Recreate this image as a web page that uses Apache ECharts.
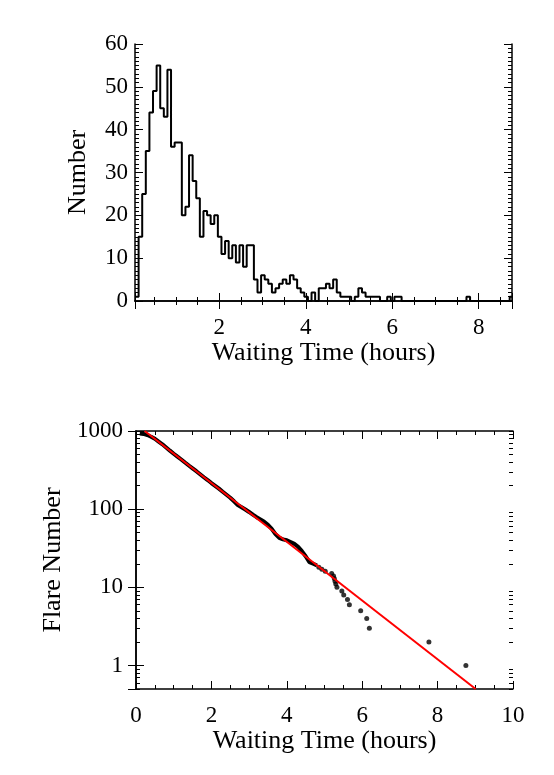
<!DOCTYPE html>
<html>
<head>
<meta charset="utf-8">
<script src="https://cdn.jsdelivr.net/npm/echarts@6/dist/echarts.min.js"></script>
<style>
  html, body { margin: 0; padding: 0; background: #fff; }
  #chart { width: 554px; height: 775px; }
</style>
</head>
<body>
<div id="chart"></div>
<script>
// top panel: flares per 5 minute bin of waiting time
const binStart = 0.05;
const binWidth = 1 / 12;
const binCounts = [
  1, 15, 25, 35, 44, 49, 55, 45, 43, 54, 36, 37, 37, 20, 22, 34, 28, 24, 15, 21,
  20, 18, 20, 15, 11, 14, 10, 13, 9, 13, 8, 13, 13, 5, 2, 6, 5, 4, 2, 3,
  4, 5, 4, 6, 5, 3, 2, 1, 0, 2, 0, 3, 3, 4, 3, 5, 2, 1, 1, 1,
  0, 1, 3, 2, 1, 1, 1, 1, 0, 0, 1, 0, 1, 1, 0, 0, 0, 0, 0, 0,
  0, 0, 0, 0, 0, 0, 0, 0, 0, 0, 0, 0, 1, 0, 0, 0, 0, 0, 0, 0,
  0, 0, 0, 0, 1
];

// bottom panel: number of flares with waiting time longer than t
const denseTimes = [0.10, 0.15, 0.20, 0.25, 0.30, 0.35, 0.40, 0.45, 0.50, 0.55, 0.60, 0.70, 0.80, 0.90,
  1.00, 1.10, 1.20, 1.30, 1.40, 1.50, 1.60, 1.70, 1.80, 1.90, 2.00, 2.10, 2.20, 2.30, 2.40, 2.50,
  2.60, 2.70, 2.80, 2.90, 3.00, 3.10, 3.20, 3.30, 3.40, 3.50, 3.60, 3.70, 3.80, 3.90, 4.00, 4.10,
  4.20, 4.30, 4.40, 4.50, 4.60, 4.70, 4.80];
const denseCounts = [928, 926, 918, 905, 889, 868, 845, 820, 795, 765, 730, 675, 615, 560,
  512, 470, 432, 395, 362, 333, 306, 280, 256, 236, 216, 199, 183, 167, 153, 140,
  126, 113, 106, 99, 92, 85, 79, 74, 69, 63, 56, 48, 43, 41, 40, 38,
  36, 33, 29, 25, 21, 20, 19];
const tailTimes = [4.85, 4.93, 5.02, 5.19, 5.24, 5.26, 5.28, 5.30, 5.33, 5.46, 5.51, 5.61, 5.66, 5.96, 6.12, 6.19, 7.77, 8.75];
const tailCounts = [18, 17, 16, 15, 14, 13, 12, 11, 10, 9, 8, 7, 6, 5, 4, 3, 2, 1];

// exponential fit (straight on the log axis)
const fitTimes = [0.23, 9.01];
const fitCounts = [1000, 0.5];

// log minor ticks at 2..9 x 10^n
const minorSteps = [2, 3, 4, 5, 6, 7, 8, 9];

const serif = 'Liberation Serif';
const black = '#000';
const frame = { show: true, lineStyle: { color: black, width: 1.5 } };
const label = { fontFamily: serif, fontSize: 23, color: black };
const nameStyle = { fontFamily: serif, fontSize: 26, color: black };
const noLabel = { show: false };
const tick = (len) => ({ show: true, inside: true, length: len, lineStyle: { color: black, width: 1 } });
const minor = (n) => ({ show: true, splitNumber: n, length: 4, lineStyle: { color: black, width: 1 } });

const histData = binCounts.map((c, i) => [binStart + i * binWidth, c]);
histData.push([binStart + binCounts.length * binWidth, 0]);

const xAxes = [
  { gridIndex: 0, type: 'value', position: 'bottom', min: 0.05, max: 8.77,
    axisLine: frame, axisTick: tick(8), minorTick: minor(4), splitLine: { show: false },
    axisLabel: Object.assign({ margin: 15, showMinLabel: false, showMaxLabel: false }, label),
    name: 'Waiting Time (hours)', nameLocation: 'middle', nameGap: 38, nameTextStyle: nameStyle },
  { gridIndex: 0, type: 'value', position: 'top', min: 0.05, max: 8.77,
    axisLine: frame, axisTick: tick(8), minorTick: minor(4), splitLine: { show: false }, axisLabel: noLabel },
  { gridIndex: 1, type: 'value', position: 'bottom', min: 0, max: 10, interval: 2,
    axisLine: frame, axisTick: tick(8), minorTick: minor(4), splitLine: { show: false },
    axisLabel: Object.assign({ margin: 15 }, label),
    name: 'Waiting Time (hours)', nameLocation: 'middle', nameGap: 38, nameTextStyle: nameStyle },
  { gridIndex: 1, type: 'value', position: 'top', min: 0, max: 10, interval: 2,
    axisLine: frame, axisTick: tick(8), minorTick: minor(4), splitLine: { show: false }, axisLabel: noLabel }
];

const yAxes = [
  { gridIndex: 0, type: 'value', position: 'left', min: 0, max: 60, interval: 10,
    axisLine: frame, axisTick: tick(8), minorTick: minor(10), splitLine: { show: false },
    axisLabel: Object.assign({ margin: 7 }, label),
    name: 'Number', nameLocation: 'middle', nameGap: 44, nameRotate: 90, nameTextStyle: nameStyle },
  { gridIndex: 0, type: 'value', position: 'right', min: 0, max: 60, interval: 10,
    axisLine: frame, axisTick: tick(8), minorTick: minor(10), splitLine: { show: false }, axisLabel: noLabel },
  { gridIndex: 1, type: 'log', logBase: 10, position: 'left', min: 0.5, max: 1000,
    axisLine: frame, axisTick: tick(8), splitLine: { show: false },
    axisLabel: Object.assign({ margin: 13, showMinLabel: false, formatter: (v) => String(Math.round(v)) }, label),
    name: 'Flare Number', nameLocation: 'middle', nameGap: 69, nameRotate: 90, nameTextStyle: nameStyle },
  { gridIndex: 1, type: 'log', logBase: 10, position: 'right', min: 0.5, max: 1000,
    axisLine: frame, axisTick: tick(8), splitLine: { show: false }, axisLabel: noLabel }
];
['left', 'right'].forEach((side) => {
  minorSteps.forEach((k) => {
    yAxes.push({ gridIndex: 1, type: 'log', logBase: 10, position: side, min: 0.5 / k, max: 1000 / k,
      axisLine: { show: false }, axisTick: tick(4), splitLine: { show: false }, axisLabel: noLabel });
  });
});

const chart = echarts.init(document.getElementById('chart'), null, { renderer: 'canvas' });
chart.setOption({
  animation: false,
  backgroundColor: '#fff',
  grid: [
    { left: 135, top: 44, width: 377, height: 257 },
    { left: 136, top: 431, width: 377, height: 258 }
  ],
  xAxis: xAxes,
  yAxis: yAxes,
  series: [
    { type: 'line', xAxisIndex: 0, yAxisIndex: 0, step: 'end', data: histData,
      symbol: 'none', lineStyle: { color: black, width: 2 } },
    { type: 'line', xAxisIndex: 2, yAxisIndex: 2,
      data: denseTimes.map((t, i) => [t, denseCounts[i]]),
      symbol: 'none', lineStyle: { color: black, width: 4 }, z: 2 },
    { type: 'scatter', xAxisIndex: 2, yAxisIndex: 2,
      data: tailTimes.map((t, i) => [t, tailCounts[i]]),
      symbol: 'circle', symbolSize: 5, itemStyle: { color: black }, z: 2 },
    { type: 'line', xAxisIndex: 2, yAxisIndex: 2,
      data: fitTimes.map((t, i) => [t, fitCounts[i]]),
      symbol: 'none', lineStyle: { color: '#ff0000', width: 2 }, z: 5 }
  ]
});
</script>
</body>
</html>
